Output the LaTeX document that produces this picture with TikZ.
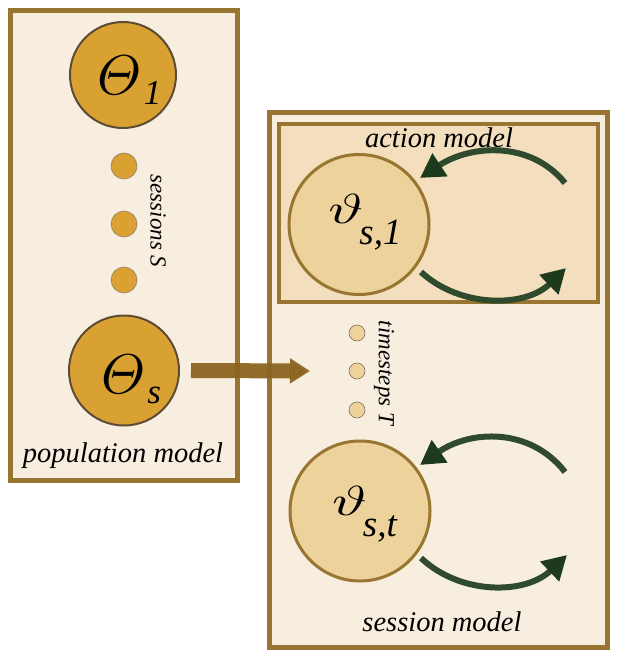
\documentclass[tikz,border=0pt]{standalone}
\usepackage{amsmath}
\usepackage{fontspec}
\setmainfont{Liberation Serif}
\usetikzlibrary{arrows.meta}
\definecolor{boxedge}{HTML}{987530}
\definecolor{boxfill}{HTML}{F8EEDF}
\definecolor{actfill}{HTML}{F3DFBD}
\definecolor{popfill}{HTML}{D9A032}
\definecolor{popedge}{HTML}{5E4B33}
\definecolor{sesfill}{HTML}{EDD29B}
\definecolor{arrbrown}{HTML}{8C6420}
\definecolor{loopgreen}{HTML}{2F4A2C}
\definecolor{tipgreen}{HTML}{1E3A1C}
\tikzset{
  frame/.style={draw=boxedge, line width=5pt, fill=boxfill},
  actframe/.style={draw=boxedge, line width=4pt, fill=actfill},
  popnode/.style={circle, draw=popedge, line width=2pt, fill=popfill, minimum size=#1, inner sep=0pt},
  popdot/.style={circle, draw=popedge!70, line width=0.6pt, fill=popfill, minimum size=26pt, inner sep=0pt},
  sesnode/.style={circle, draw=boxedge, line width=3pt, fill=sesfill, minimum size=140pt, inner sep=0pt},
  sesdot/.style={circle, draw=popedge!80, line width=0.6pt, fill=sesfill, minimum size=16pt, inner sep=0pt},
  symb/.style={inner sep=0pt},
  label/.style={font=\itshape\fontsize{28.5}{30}\selectfont, inner sep=0pt},
  sidelabel/.style={font=\itshape\fontsize{23}{25}\selectfont, inner sep=0pt, rotate=-90},
  loop/.style={draw=loopgreen, line width=6pt, -{Triangle[length=24pt,width=26pt,fill=tipgreen,color=tipgreen]}},
  bigarrow/.style={draw=arrbrown, opacity=0.95, line width=15pt, -{Triangle[length=20pt,width=24pt]}}
}
\begin{document}
\begin{tikzpicture}[x=1pt,y=-1pt]
\useasboundingbox (0,0) rectangle (623,658);
% population model frame
\draw[frame] (10.5,10.5) rectangle (237.5,480);
\node[popnode=106pt] (th1) at (123,75) {};
\node[symb] (th1lab) at (129.5,80) {\scalebox{5.6}{$\varTheta$}\kern2pt\raisebox{-10pt}{\itshape\fontsize{35}{35}\selectfont 1}};
\node[popdot] (d1) at (124,166) {};
\node[popdot] (d2) at (124,224) {};
\node[popdot] (d3) at (124,280) {};
\node[sidelabel] (sess) at (158,221) {sessions S};
\node[popnode=110pt] (ths) at (124,370.5) {};
\node[symb] (thslab) at (131,379.5) {\scalebox{5.6}{$\varTheta$}\kern2pt\raisebox{-10pt}{\itshape\fontsize{35}{35}\selectfont s}};
\node[label] (poplab) at (123,456) {population model};
% session model frame
\draw[frame] (269,113) rectangle (607,647);
\draw[actframe] (279,124) rectangle (598,302);
\node[label] (actlab) at (439,138) {action model};
\node[sesnode] (v1) at (359,224.5) {};
\node[symb] (v1lab) at (365,222.5) {\scalebox{5.9}[4.2]{$\vartheta$}\kern-4pt\raisebox{-21pt}{\itshape\fontsize{37}{37}\selectfont s,1}};
\coordinate (a1s) at (565,183);
\coordinate (a1e) at (420,178);
\coordinate (b1s) at (421,272);
\coordinate (b1e) at (566,268);
\draw[loop] (a1s) .. controls (530,140) and (470,145) .. (a1e);
\draw[loop] (b1s) .. controls (460,308) and (525,308) .. (b1e);
\node[sesdot] (t1) at (357,333) {};
\node[sesdot] (t2) at (357,371) {};
\node[sesdot] (t3) at (357,410) {};
\node[sidelabel] (tlab) at (384,373) {timesteps T};
\node[sesnode] (vt) at (360,511) {};
\node[symb] (vtlab) at (364.5,514) {\scalebox{5.9}[4.2]{$\vartheta$}\kern-4pt\raisebox{-21pt}{\itshape\fontsize{37}{37}\selectfont s,t}};
\coordinate (a2s) at (565,472);
\coordinate (a2e) at (420,465);
\coordinate (b2s) at (421,558);
\coordinate (b2e) at (567,555);
\draw[loop] (a2s) .. controls (530,427) and (470,430) .. (a2e);
\draw[loop] (b2s) .. controls (460,595) and (525,595) .. (b2e);
\node[label] (seslab) at (442,622) {session model};
% arrow population -> session
\coordinate (arrend) at (310,371);
\draw[bigarrow] (ths.east) ++(11,0) coordinate (arrstart) -- (arrend);
\end{tikzpicture}
\end{document}
